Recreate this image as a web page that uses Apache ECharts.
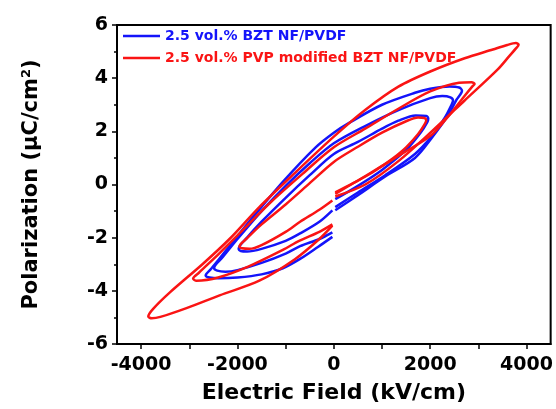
<!DOCTYPE html>
<html>
<head>
<meta charset="utf-8">
<script src="https://cdn.jsdelivr.net/npm/echarts@6/dist/echarts.min.js"></script>
<style>
	html, body { margin: 0; padding: 0; background: #fff; }
	#chart { width: 556px; height: 409px; }
</style>
</head>
<body>
<div id="chart"></div>
<script>
// tick positions
var xTicks = [-4000, -3000, -2000, -1000, 0, 1000, 2000, 3000, 4000];
var xLabels = [-4000, -2000, 0, 2000, 4000];

var nameBlue = '2.5 vol.% BZT NF/PVDF';
var nameRed = '2.5 vol.% PVP modified BZT NF/PVDF';

// P-E loops, [E (kV/cm), P (uC/cm2)]
// start at E=0, up to +Emax, back to -Emax, back to E=0
var blueLoop1 = [[30,-0.55],[500,-0.05],[1000,0.55],[1500,1.3],[1800,1.95],[1940,2.35],[1960,2.48],[1920,2.58],[1700,2.6],[1340,2.4],[1000,2.1],[500,1.6],[0,1.15],[-500,0.35],[-1000,-0.5],[-1500,-1.4],[-1800,-2.0],[-1975,-2.42],[-1930,-2.5],[-1800,-2.52],[-1500,-2.42],[-1000,-2.12],[-700,-1.84],[-300,-1.4],[-30,-0.97]];
var blueLoop2 = [[30,-0.85],[500,-0.3],[1066,0.35],[1684,1.15],[2027,1.8],[2300,2.5],[2430,2.95],[2474,3.16],[2420,3.28],[2250,3.33],[2000,3.25],[1340,2.8],[650,2.2],[0,1.55],[-500,0.8],[-1000,-0.05],[-1500,-1.0],[-2000,-2.05],[-2300,-2.72],[-2485,-3.14],[-2420,-3.24],[-2250,-3.28],[-2000,-3.22],[-1500,-2.95],[-1000,-2.6],[-700,-2.32],[-300,-2.05],[-30,-1.8]];
var blueLoop3 = [[30,-0.97],[500,-0.4],[1066,0.3],[1684,1.0],[2027,1.74],[2371,2.6],[2550,3.2],[2660,3.53],[2600,3.65],[2400,3.69],[2000,3.6],[1684,3.45],[1000,3.0],[300,2.3],[0,1.95],[-377,1.4],[-1058,0.1],[-1790,-1.47],[-2227,-2.46],[-2550,-3.18],[-2660,-3.42],[-2580,-3.5],[-2400,-3.53],[-2000,-3.5],[-1500,-3.38],[-1058,-3.15],[-700,-2.8],[-330,-2.35],[-30,-1.97]];

var redLoop1 = [[30,-0.3],[400,0.05],[800,0.45],[1200,0.95],[1500,1.4],[1750,1.9],[1880,2.25],[1918,2.42],[1880,2.5],[1750,2.52],[1500,2.38],[1000,1.95],[500,1.42],[0,0.85],[-500,0.05],[-1000,-0.75],[-1500,-1.5],[-1800,-2.02],[-1959,-2.33],[-1900,-2.4],[-1750,-2.42],[-1500,-2.28],[-1000,-1.78],[-700,-1.4],[-300,-0.95],[-30,-0.6]];
var redLoop2 = [[30,-0.35],[500,0.15],[1000,0.7],[1500,1.25],[2027,1.86],[2371,2.55],[2700,3.3],[2880,3.7],[2921,3.78],[2860,3.85],[2600,3.83],[2000,3.5],[1340,2.85],[650,2.1],[0,1.4],[-650,0.4],[-1300,-0.65],[-1821,-1.59],[-2371,-2.58],[-2800,-3.32],[-2921,-3.54],[-2850,-3.62],[-2400,-3.5],[-1790,-3.1],[-1058,-2.46],[-720,-2.12],[-300,-1.78],[-30,-1.5]];
var redLoop3 = [[30,-0.45],[653,0.0],[1340,0.88],[2027,1.99],[2715,3.16],[3402,4.33],[3650,4.85],[3780,5.12],[3835,5.26],[3780,5.32],[3600,5.25],[3300,5.08],[2715,4.75],[2027,4.27],[1340,3.68],[650,2.8],[0,1.8],[-800,0.45],[-1546,-0.85],[-2165,-2.05],[-2715,-2.98],[-3402,-4.06],[-3750,-4.68],[-3851,-4.97],[-3780,-5.03],[-3600,-4.98],[-3058,-4.65],[-2371,-4.17],[-1546,-3.62],[-800,-2.8],[-300,-2.05],[-30,-1.55]];

var blue = '#1414fa';
var red = '#fa1414';
var font = 'DejaVu Sans';

function loopSeries(name, color, data) {
	return {
		name : name,
		type : 'line',
		data : data,
		symbol : 'none',
		smooth : 0.3,
		lineStyle : { color : color, width : 2.5 },
		itemStyle : { color : color }
	};
}

var chart = echarts.init(document.getElementById('chart'));
var option = {
	animation : false,
	grid : {
		left : 117, right : 4, top : 25, bottom : 60,
		show : true, borderColor : '#000', borderWidth : 2
	},
	legend : {
		orient : 'vertical',
		left : 123, top : 29,
		padding : 0,
		icon : 'rect',
		itemWidth : 37, itemHeight : 2.5, itemGap : 8,
		textStyle : { fontFamily : font, fontWeight : 'bold', fontSize : 14 },
		data : [
			{ name : nameBlue, textStyle : { color : blue } },
			{ name : nameRed, textStyle : { color : red } }
		]
	},
	xAxis : {
		type : 'value',
		min : -4500, max : 4500,
		name : 'Electric Field (kV/cm)',
		nameLocation : 'middle',
		nameGap : 38,
		nameTextStyle : { fontFamily : font, fontWeight : 'bold', fontSize : 22, color : '#000' },
		axisLine : { onZero : false, lineStyle : { color : '#000', width : 2 } },
		axisTick : { show : true, length : 5, customValues : xTicks, lineStyle : { color : '#000', width : 1.5 } },
		axisLabel : {
			customValues : xLabels, margin : 12,
			fontFamily : font, fontWeight : 'bold', fontSize : 19, color : '#000',
			formatter : function(v) { return String(v); }
		},
		splitLine : { show : false }
	},
	yAxis : {
		type : 'value',
		min : -6, max : 6, interval : 2,
		name : 'Polarization (μC/cm{sup|2})',
		nameLocation : 'middle',
		nameRotate : 90,
		nameGap : 74,
		nameTextStyle : {
			fontFamily : font, fontWeight : 'bold', fontSize : 21, color : '#000',
			rich : {
				sup : { fontFamily : font, fontWeight : 'bold', fontSize : 13, color : '#000', verticalAlign : 'top', padding : [0, 0, 10, 0] }
			}
		},
		axisLine : { onZero : false, lineStyle : { color : '#000', width : 2 } },
		axisTick : { length : 5, lineStyle : { color : '#000', width : 1.5 } },
		minorTick : { show : true, splitNumber : 2, length : 3, lineStyle : { color : '#000', width : 1.5 } },
		axisLabel : { margin : 9, fontFamily : font, fontWeight : 'bold', fontSize : 19, color : '#000' },
		splitLine : { show : false },
		minorSplitLine : { show : false }
	},
	series : [
		loopSeries(nameBlue, blue, blueLoop1),
		loopSeries(nameBlue, blue, blueLoop2),
		loopSeries(nameBlue, blue, blueLoop3),
		loopSeries(nameRed, red, redLoop1),
		loopSeries(nameRed, red, redLoop2),
		loopSeries(nameRed, red, redLoop3)
	]
};
chart.setOption(option);
</script>
</body>
</html>
